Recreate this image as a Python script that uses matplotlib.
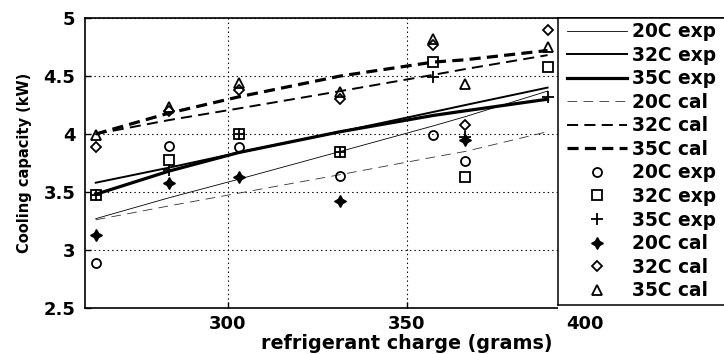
import matplotlib
matplotlib.use("Agg")
import matplotlib.pyplot as plt
from matplotlib.patches import Rectangle
from matplotlib.lines import Line2D
from matplotlib.ticker import FormatStrFormatter

plt.rcParams['font.family'] = ['DejaVu Sans']
plt.rcParams['font.weight'] = 'bold'
plt.rcParams['lines.scale_dashes'] = False

# refrigerant charge (grams) where the fitted curves are evaluated
charge = [263, 283.5, 303, 331.5, 357.5, 366.5, 389.5]

# fitted curves, cooling capacity (kW)
fit_20c_exp = [3.27, 3.45, 3.61, 3.85, 4.07, 4.15, 4.37]
fit_32c_exp = [3.58, 3.71, 3.84, 4.02, 4.19, 4.25, 4.40]
fit_35c_exp = [3.48, 3.68, 3.84, 4.02, 4.16, 4.20, 4.30]
fit_20c_cal = [3.26, 3.38, 3.49, 3.65, 3.80, 3.85, 4.02]
fit_32c_cal = [4.00, 4.12, 4.22, 4.37, 4.51, 4.56, 4.68]
fit_35c_cal = [4.00, 4.18, 4.32, 4.50, 4.62, 4.64, 4.72]

# measured / calculated points
pts_20c_exp_x = [263, 283.5, 303, 331.5, 357.5, 366.5]
pts_20c_exp = [2.89, 3.90, 3.89, 3.64, 3.99, 3.77]
pts_32c_exp = [3.47, 3.78, 4.00, 3.845, 4.62, 3.63, 4.58]
pts_35c_exp = [3.47, 3.69, 4.00, 3.845, 4.49, 3.97, 4.32]
pts_20c_cal_x = [263, 283.5, 303, 331.5, 366.5]
pts_20c_cal = [3.13, 3.58, 3.63, 3.42, 3.95]
pts_32c_cal = [3.89, 4.20, 4.38, 4.30, 4.77, 4.08, 4.90]
pts_35c_cal = [3.99, 4.23, 4.44, 4.36, 4.82, 4.43, 4.75]

W, H = 724, 354
fig = plt.figure(figsize=(W / 100, H / 100), dpi=100)
ax = fig.add_axes([85 / W, 1 - 308 / H, (728 - 85) / W, (308 - 18) / H])

ax.plot(charge, fit_20c_exp, color='black', lw=0.6, label='20C exp')
ax.plot(charge, fit_32c_exp, color='black', lw=1.4, label='32C exp')
ax.plot(charge, fit_35c_exp, color='black', lw=2.3, label='35C exp')
ax.plot(charge, fit_20c_cal, color='#333333', lw=0.6, dashes=(7, 4.5), label='20C cal')
ax.plot(charge, fit_32c_cal, color='black', lw=1.4, dashes=(8, 4.5), label='32C cal')
ax.plot(charge, fit_35c_cal, color='black', lw=2.3, dashes=(8, 4.5), label='35C cal')

mk = dict(linestyle='none', color='black', markerfacecolor='none', markeredgewidth=1.3)
ax.plot(pts_20c_exp_x, pts_20c_exp, marker='o', markersize=6.5, label='20C exp', **mk)
ax.plot(charge, pts_32c_exp, marker='s', markersize=6.5, label='32C exp', **mk)
ax.plot(charge, pts_35c_exp, marker='+', markersize=8, label='35C exp', **mk)
ax.plot(pts_20c_cal_x, pts_20c_cal, marker=(4, 1, 0), markersize=8.5, linestyle='none',
        color='black', markeredgewidth=1.0, label='20C cal')
ax.plot(charge, pts_32c_cal, marker='D', markersize=5.5, label='32C cal', **mk)
ax.plot(charge, pts_35c_cal, marker='^', markersize=7.5, label='35C cal', **mk)

ax.set_xlim(260, 440)
ax.set_ylim(2.5, 5)
ax.set_xticks([300, 350, 400])
ax.set_yticks([2.5, 3, 3.5, 4, 4.5, 5])
ax.yaxis.set_major_formatter(FormatStrFormatter('%g'))
ax.grid(True, color='black', linestyle=(0, (1, 2.2)), linewidth=0.8)
ax.tick_params(direction='in', length=4, width=1, labelsize=13, pad=5,
               top=False, right=False)
ax.tick_params(axis='y', pad=7)
for s in ax.spines.values():
    s.set_linewidth(1.2)

ax.set_xlabel('refrigerant charge (grams)', fontsize=13.8, fontweight='bold', labelpad=1)
ax.set_ylabel('Cooling capacity (kW)', fontsize=10.5, fontweight='bold', labelpad=8)

# legend panel: white box over the right part of the axes, open on the right
def px(x, y):
    return x / W, 1 - y / H

fig.add_artist(Rectangle(px(558, 311), 190 / W, (311 - 18) / H, transform=fig.transFigure,
                         facecolor='white', edgecolor='none', zorder=1.5))
for xs, ys in [((558, 558), (18, 305)), ((558, 740), (305, 305)), ((558, 740), (18, 18))]:
    fig.add_artist(Line2D([x / W for x in xs], [1 - y / H for y in ys],
                          transform=fig.transFigure, color='black', lw=1.1, zorder=1.6))

handles, labels = ax.get_legend_handles_labels()
leg = fig.legend(handles, labels, loc='upper left', bbox_to_anchor=px(563, 18),
                 borderaxespad=0, numpoints=1, fontsize=13.4, handlelength=3.2,
                 handletextpad=0.27, borderpad=0.22, labelspacing=0.245, frameon=False)
leg.set_zorder(2)

fig.savefig('out.png', dpi=100)
